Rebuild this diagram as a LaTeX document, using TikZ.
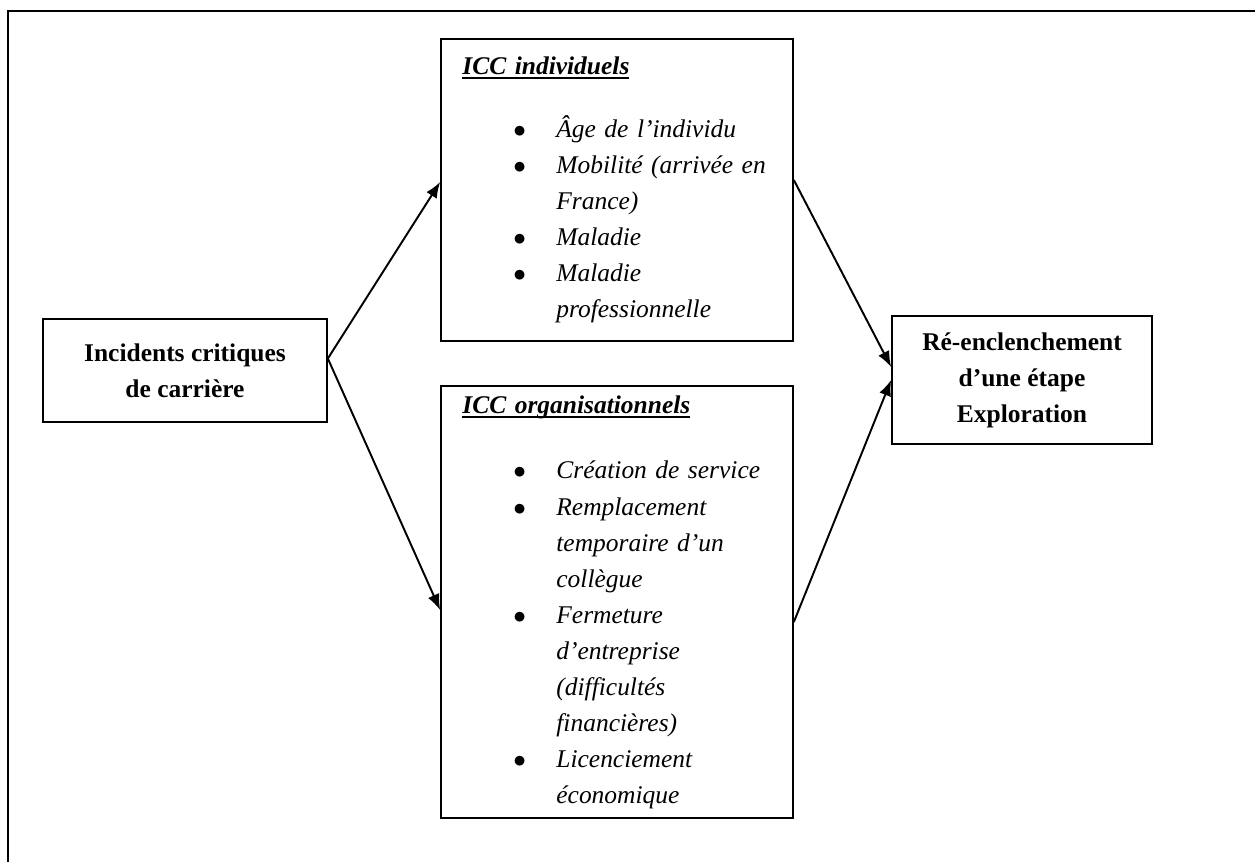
\documentclass[tikz,border=0pt]{standalone}
\usepackage{fontspec}
\setmainfont{Liberation Serif}
\usetikzlibrary{arrows.meta}

\newcommand{\ulhead}[1]{\setbox0=\hbox{\bfseries\itshape #1}\rlap{\rule[-2.6pt]{\wd0}{1.2pt}}\box0}
\newcommand{\bitem}[1]{\mbox{\hspace*{29pt}\makebox[24.5pt][l]{$\bullet$}\textit{#1}}}
\newcommand{\bcont}[1]{\mbox{\hspace*{53.5pt}\textit{#1}}}

\begin{document}
\begin{tikzpicture}[x=0.02cm, y=-0.02cm, >={Latex[length=9pt,width=7pt]},
  box/.style={draw, line width=1pt, font=\fontsize{14.5}{20.5}\selectfont},
  endbox/.style={box, inner sep=0pt, align=center, font=\fontsize{14.5}{20.5}\selectfont\bfseries},
  listbox/.style={box, inner xsep=12pt, inner ysep=0pt, text width=176pt, align=left}]
  \useasboundingbox (0,0) rectangle (1255,862);

  % frame
  \draw[line width=1.4pt] (8,862) -- (8,11) -- (1255,11);

  \node[endbox, minimum width=5.68cm, minimum height=2.06cm] (icc) at (185,370.5) {Incidents critiques\\de carrière};

  \node[listbox, minimum width=7.04cm, minimum height=6.04cm] (indiv) at (617,190) {%
    \ulhead{ICC individuels}\\[15pt]
    \bitem{Âge de l’individu}\\
    \bitem{Mobilité (arrivée en}\\
    \bcont{France)}\\
    \bitem{Maladie}\\
    \bitem{Maladie}\\
    \bcont{professionnelle}};

  \node[listbox, minimum width=7.04cm, minimum height=8.64cm] (orga) at (617,602) {%
    \ulhead{ICC organisationnels}\\[17pt]
    \bitem{Création de service}\\
    \bitem{Remplacement}\\
    \bcont{temporaire d’un}\\
    \bcont{collègue}\\
    \bitem{Fermeture}\\
    \bcont{d’entreprise}\\
    \bcont{(difficultés}\\
    \bcont{financières)}\\
    \bitem{Licenciement}\\
    \bcont{économique}};

  \node[endbox, minimum width=5.2cm, minimum height=2.56cm] (explo) at (1022,380) {Ré-enclenchement\\d’une étape\\Exploration};

  \draw[->, line width=1.1pt] ([yshift=0.24cm]icc.east) -- ([yshift=0.16cm]indiv.west);
  \draw[->, line width=1.1pt] ([yshift=0.24cm]icc.east) -- ([yshift=-0.16cm]orga.west);
  \draw[->, line width=1.1pt] ([yshift=0.2cm]indiv.east) -- ([yshift=0.26cm]explo.west);
  \draw[->, line width=1.1pt] ([yshift=-0.4cm]orga.east) -- (explo.west);
\end{tikzpicture}
\end{document}
